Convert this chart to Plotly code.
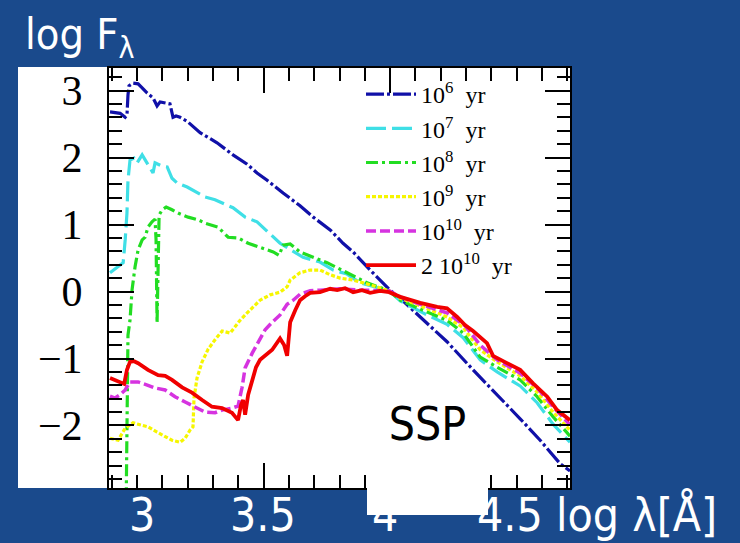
import numpy as np
import plotly.graph_objects as go

# Simple stellar population spectra: log wavelength [Å] vs log F_lambda,
# normalised at log lambda = 4
age_labels = ["10<sup>6</sup>\u2002yr", "10<sup>7</sup>\u2002yr", "10<sup>8</sup>\u2002yr",
              "10<sup>9</sup>\u2002yr", "10<sup>10</sup>\u2002yr", "2 10<sup>10</sup>\u2002yr"]

x_1e6 = [2.893, 2.933, 2.953, 2.960, 2.964, 2.968, 2.984, 3.004, 3.020, 3.040,
         3.063, 3.079, 3.091, 3.111, 3.130, 3.142, 3.154, 3.170, 3.198, 3.249,
         3.316, 3.379, 3.435, 3.474, 3.514, 3.577, 3.644, 3.696, 3.763, 3.814,
         3.854, 3.921, 4.000, 4.059, 4.119, 4.225, 4.328, 4.423, 4.514, 4.593,
         4.672, 4.711]
y_1e6 = [2.68, 2.66, 2.60, 2.63, 2.93, 3.07, 3.11, 3.10, 3.04, 2.96,
         2.89, 2.77, 2.83, 2.81, 2.80, 2.60, 2.62, 2.60, 2.54, 2.37,
         2.22, 2.04, 1.90, 1.77, 1.66, 1.47, 1.28, 1.11, 0.92, 0.72,
         0.59, 0.32, 0.02, -0.17, -0.38, -0.75, -1.17, -1.54, -1.90, -2.22,
         -2.57, -2.68]

x_1e7 = [2.893, 2.925, 2.945, 2.953, 2.960, 2.964, 2.972, 2.988, 3.000, 3.020,
         3.043, 3.063, 3.071, 3.099, 3.119, 3.138, 3.158, 3.198, 3.269, 3.308,
         3.379, 3.427, 3.474, 3.538, 3.565, 3.656, 3.723, 3.775, 3.830, 3.881,
         3.996, 4.040, 4.130, 4.225, 4.289, 4.356, 4.423, 4.514, 4.581, 4.644,
         4.700, 4.711]
y_1e7 = [0.28, 0.37, 0.43, 0.77, 1.17, 1.66, 1.96, 1.99, 1.92, 2.04,
         1.89, 1.77, 1.92, 1.87, 1.86, 1.69, 1.62, 1.56, 1.41, 1.37,
         1.25, 1.11, 1.04, 0.81, 0.72, 0.51, 0.44, 0.32, 0.26, 0.13,
         0.01, -0.14, -0.32, -0.49, -0.69, -1.02, -1.20, -1.41, -1.66, -1.98,
         -2.22, -2.25]

x_1e8 = [2.957, 2.960, 2.964, 2.972, 2.980, 2.992, 3.004, 3.020, 3.032, 3.043,
         3.059, 3.071, 3.075, 3.079, 3.083, 3.087, 3.099, 3.115, 3.138, 3.162,
         3.202, 3.241, 3.269, 3.320, 3.360, 3.399, 3.439, 3.486, 3.538, 3.561,
         3.577, 3.605, 3.644, 3.696, 3.751, 3.830, 3.909, 3.996, 4.040, 4.130,
         4.225, 4.289, 4.356, 4.423, 4.514, 4.581, 4.644, 4.700, 4.711]
y_1e8 = [-3.10, -1.62, -0.65, -0.43, 0.02, 0.37, 0.62, 0.77, 0.81, 0.96,
         1.04, 1.08, 0.77, -0.47, 0.77, 1.14, 1.22, 1.26, 1.22, 1.17,
         1.11, 1.07, 1.02, 0.96, 0.81, 0.80, 0.72, 0.66, 0.59, 0.54,
         0.69, 0.71, 0.59, 0.51, 0.43, 0.28, 0.13, 0.01, -0.13, -0.28,
         -0.43, -0.62, -0.98, -1.13, -1.32, -1.57, -1.87, -2.11, -2.16]

x_1e9 = [2.893, 2.925, 2.953, 2.984, 3.012, 3.043, 3.079, 3.111, 3.138, 3.170,
         3.190, 3.209, 3.221, 3.225, 3.237, 3.257, 3.281, 3.308, 3.336, 3.368,
         3.407, 3.435, 3.458, 3.486, 3.526, 3.565, 3.593, 3.605, 3.644, 3.684,
         3.723, 3.763, 3.802, 3.854, 3.921, 3.996, 4.040, 4.130, 4.225, 4.289,
         4.356, 4.423, 4.514, 4.581, 4.644, 4.700, 4.711]
y_1e9 = [-2.19, -2.22, -2.04, -1.96, -1.99, -2.02, -2.10, -2.17, -2.22, -2.25,
         -2.19, -2.07, -2.02, -1.59, -1.29, -1.05, -0.86, -0.72, -0.59, -0.62,
         -0.43, -0.32, -0.23, -0.13, -0.05, -0.01, 0.07, 0.17, 0.28, 0.32,
         0.32, 0.25, 0.20, 0.17, 0.10, 0.01, -0.10, -0.23, -0.38, -0.54,
         -0.87, -1.05, -1.26, -1.50, -1.80, -2.04, -2.07]

x_1e10 = [2.893, 2.913, 2.933, 2.953, 2.972, 3.004, 3.043, 3.071, 3.111, 3.150,
          3.190, 3.229, 3.269, 3.308, 3.336, 3.375, 3.399, 3.415, 3.427, 3.455,
          3.478, 3.506, 3.534, 3.565, 3.593, 3.617, 3.644, 3.684, 3.723, 3.802,
          3.881, 3.960, 3.996, 4.040, 4.119, 4.225, 4.296, 4.356, 4.423, 4.514,
          4.581, 4.644, 4.700, 4.711]
y_1e10 = [-1.56, -1.59, -1.54, -1.47, -1.35, -1.35, -1.40, -1.44, -1.47, -1.57,
          -1.65, -1.72, -1.80, -1.81, -1.77, -1.74, -1.71, -1.43, -1.14, -0.92,
          -0.75, -0.57, -0.46, -0.35, -0.19, -0.13, -0.04, 0.01, 0.02, 0.04,
          0.02, 0.02, 0.01, -0.08, -0.19, -0.32, -0.51, -0.80, -1.02, -1.22,
          -1.44, -1.72, -1.96, -1.99]

x_2e10 = [2.893, 2.925, 2.949, 2.960, 2.972, 2.988, 3.004, 3.043, 3.083, 3.111,
          3.138, 3.178, 3.217, 3.257, 3.296, 3.336, 3.375, 3.399, 3.411, 3.419,
          3.427, 3.439, 3.455, 3.470, 3.486, 3.506, 3.534, 3.565, 3.581, 3.593,
          3.605, 3.625, 3.644, 3.664, 3.684, 3.723, 3.763, 3.791, 3.822, 3.854,
          3.889, 3.921, 3.960, 3.996, 4.040, 4.119, 4.186, 4.225, 4.265, 4.296,
          4.328, 4.383, 4.407, 4.462, 4.514, 4.565, 4.621, 4.660, 4.711]
y_2e10 = [-1.29, -1.34, -1.38, -1.17, -1.05, -1.04, -1.07, -1.17, -1.25, -1.26,
          -1.32, -1.43, -1.51, -1.62, -1.72, -1.74, -1.81, -1.92, -1.69, -1.62,
          -1.84, -1.54, -1.32, -1.13, -1.02, -0.95, -0.87, -0.70, -0.80, -0.96,
          -0.46, -0.28, -0.13, -0.07, -0.02, -0.01, 0.04, 0.02, 0.05, -0.01,
          0.02, -0.02, 0.01, -0.01, -0.08, -0.17, -0.23, -0.25, -0.38, -0.50,
          -0.59, -0.77, -0.96, -1.07, -1.17, -1.37, -1.57, -1.77, -1.92]

series = [
    (x_1e6, y_1e6, "#1010a8", "18px,3px,3px,3px", 3.2),
    (x_1e7, y_1e7, "#3fdfe6", "20px,6px", 3.2),
    (x_1e8, y_1e8, "#22dd22", "12px,4px,3px,4px", 3.2),
    (x_1e9, y_1e9, "#f6f600", "4px,2px", 3.2),
    (x_1e10, y_1e10, "#d633e0", "10px,4px", 3.5),
    (x_2e10, y_2e10, "#f00000", "solid", 3.8),
]

W, H = 740, 543
L, R, T, B = 109, 570, 68, 488          # plot-area edges in pixels
PW, PH = R - L, B - T

def px(xp):
    return (xp - L) / PW

def py(yp):
    return (B - yp) / PH

fig = go.Figure()
for (xs, ys, col, dash, w), name in zip(series, age_labels):
    fig.add_trace(go.Scatter(x=xs, y=ys, mode="lines", name=name,
                             line=dict(color=col, width=w, dash=dash)))

slide_font = "DejaVu Sans Condensed, DejaVu Sans, sans-serif"
serif_font = "Liberation Serif, DejaVu Serif, serif"

annotations = [
    dict(text="log F<sub>λ</sub>", x=px(23), y=py(37), xanchor="left", yanchor="middle",
         font=dict(family=slide_font, size=43, color="white")),
    dict(text="3", x=px(142), y=py(515), xanchor="center", yanchor="middle",
         font=dict(family=slide_font, size=46, color="white")),
    dict(text="3.5", x=px(262.5), y=py(515), xanchor="center", yanchor="middle",
         font=dict(family=slide_font, size=46, color="white")),
    dict(text="4", x=px(385), y=py(515), xanchor="center", yanchor="middle",
         font=dict(family=slide_font, size=46, color="white")),
    dict(text="4.5 log λ[Å]", x=px(475), y=py(515), xanchor="left", yanchor="middle",
         font=dict(family=slide_font, size=46, color="white")),
    # white label box, drawn last so it sits over the axis caption
    dict(text="SSP", x=px(367), y=py(397), xanchor="left", yanchor="top",
         width=121, height=118, valign="top", align="center",
         bgcolor="white", borderpad=0, borderwidth=0,
         font=dict(family=slide_font, size=46, color="black")),
]
for a in annotations:
    a.update(xref="paper", yref="paper", showarrow=False)

fig.update_layout(
    width=W, height=H,
    margin=dict(l=L, r=W - R, t=T, b=H - B, pad=0),
    paper_bgcolor="#1a4a8c",
    plot_bgcolor="white",
    showlegend=True,
    legend=dict(x=px(361), y=py(72), xanchor="left", yanchor="top",
                bgcolor="rgba(0,0,0,0)", borderwidth=0,
                font=dict(family=serif_font, size=24, color="black"),
                itemwidth=50),
    annotations=annotations,
    shapes=[dict(type="rect", xref="paper", yref="paper", layer="below",
                 x0=px(18), x1=0, y0=0, y1=py(67),
                 fillcolor="white", line=dict(width=0))],
)

fig.update_xaxes(
    range=[2.889, 4.711], showgrid=False, zeroline=False,
    showline=True, linecolor="black", linewidth=2, mirror="allticks",
    ticks="inside", tickvals=[3.5, 4.0], ticklen=25, tickwidth=2, tickcolor="black",
    showticklabels=False,
    minor=dict(tickvals=list(np.round(np.arange(2.9, 4.71, 0.1), 2)),
               ticks="inside", ticklen=13, tickwidth=2, tickcolor="black", showgrid=False),
)
fig.update_yaxes(
    range=[-2.933, 3.336], showgrid=False, zeroline=False,
    showline=True, linecolor="black", linewidth=2, mirror="allticks",
    ticks="inside", tickvals=[-2, -1, 0, 1, 2, 3], ticklen=25, tickwidth=2, tickcolor="black",
    tickfont=dict(family=serif_font, size=42, color="black"),
    ticklabelstandoff=16,
    minor=dict(tickvals=list(np.round(np.arange(-2.8, 3.3, 0.2), 2)),
               ticks="inside", ticklen=13, tickwidth=2, tickcolor="black", showgrid=False),
)

fig.write_html("out.html")
